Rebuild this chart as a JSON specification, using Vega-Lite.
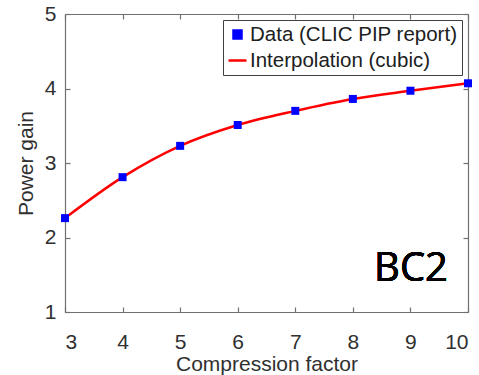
{
  "$schema": "https://vega.github.io/schema/vega-lite/v6.json",
  "width": 403,
  "height": 298,
  "autosize": {"type": "none"},
  "padding": {"left": 65, "top": 14, "right": 11, "bottom": 63},
  "background": "white",
  "config": {
    "view": {"stroke": null},
    "font": "Liberation Sans",
    "axis": {
      "grid": false,
      "domainColor": "#707070",
      "tickColor": "#707070",
      "domainWidth": 1.2,
      "tickWidth": 1.2,
      "tickSize": -5,
      "labelFont": "Liberation Sans",
      "labelFontSize": 21,
      "labelColor": "#303030",
      "titleFont": "Liberation Sans",
      "titleFontSize": 21,
      "titleFontWeight": "normal",
      "titleColor": "#303030"
    }
  },
  "data": {
    "values": [
      {"factor": 3, "gain": 2.26},
      {"factor": 4, "gain": 2.81},
      {"factor": 5, "gain": 3.23},
      {"factor": 6, "gain": 3.51},
      {"factor": 7, "gain": 3.70},
      {"factor": 8, "gain": 3.86},
      {"factor": 9, "gain": 3.97},
      {"factor": 10, "gain": 4.07}
    ]
  },
  "layer": [
    {
      "mark": {"type": "line", "interpolate": "monotone", "strokeWidth": 2.5, "color": "#ff0000"},
      "encoding": {
        "x": {
          "field": "factor", "type": "quantitative",
          "scale": {"domain": [3, 10], "nice": false, "zero": false},
          "axis": {"orient": "bottom", "values": [3, 4, 5, 6, 7, 8, 9, 10], "title": "Compression factor", "labelPadding": 24, "titlePadding": 1}
        },
        "y": {
          "field": "gain", "type": "quantitative",
          "scale": {"domain": [1, 5], "nice": false, "zero": false},
          "axis": {"orient": "left", "values": [1, 2, 3, 4, 5], "title": "Power gain", "labelPadding": 14, "titlePadding": 8}
        },
        "color": {
          "datum": "Interpolation (cubic)",
          "type": "nominal",
          "scale": {"domain": ["Data (CLIC PIP report)", "Interpolation (cubic)"], "range": ["#0000ff", "#ff0000"]},
          "legend": {
            "title": null,
            "orient": "none",
            "legendX": 158,
            "legendY": 6,
            "fillColor": "white",
            "strokeColor": "#404040",
            "padding": 4,
            "rowPadding": 5,
            "labelOffset": 2,
            "labelLimit": 0,
            "labelFont": "Liberation Sans",
            "labelFontSize": 20.5,
            "labelColor": "#202020",
            "symbolSize": 324,
            "encode": {
              "symbols": {
                "update": {
                  "shape": {"signal": "datum.value === 'Data (CLIC PIP report)' ? 'square' : 'stroke'"},
                  "size": {"signal": "datum.value === 'Data (CLIC PIP report)' ? 64 : 324"},
                  "fill": {"signal": "datum.value === 'Data (CLIC PIP report)' ? '#0000ff' : 'transparent'"},
                  "stroke": {"signal": "datum.value === 'Data (CLIC PIP report)' ? 'transparent' : '#ff0000'"},
                  "strokeWidth": {"value": 2.5},
                  "opacity": {"value": 1}
                }
              }
            }
          }
        }
      }
    },
    {
      "mark": {"type": "point", "shape": "square", "filled": true, "size": 64, "opacity": 1},
      "encoding": {
        "x": {"field": "factor", "type": "quantitative", "axis": null},
        "y": {"field": "gain", "type": "quantitative", "axis": null},
        "color": {"datum": "Data (CLIC PIP report)", "type": "nominal"}
      }
    },
    {
      "mark": {"type": "text", "font": "Open Sans", "fontSize": 40, "fontWeight": "normal", "align": "center", "baseline": "alphabetic", "color": "black"},
      "encoding": {
        "x": {"datum": 9.01, "type": "quantitative", "axis": null},
        "y": {"datum": 1.41, "type": "quantitative", "axis": null},
        "text": {"value": "BC2"}
      }
    },
    {
      "mark": {"type": "point", "opacity": 0},
      "encoding": {
        "x": {"field": "factor", "type": "quantitative", "axis": {"orient": "top", "values": [3, 4, 5, 6, 7, 8, 9, 10], "labels": false, "title": null}},
        "y": {"field": "gain", "type": "quantitative", "axis": {"orient": "right", "values": [1, 2, 3, 4, 5], "labels": false, "title": null}}
      }
    }
  ],
  "resolve": {"axis": {"x": "independent", "y": "independent"}}
}
